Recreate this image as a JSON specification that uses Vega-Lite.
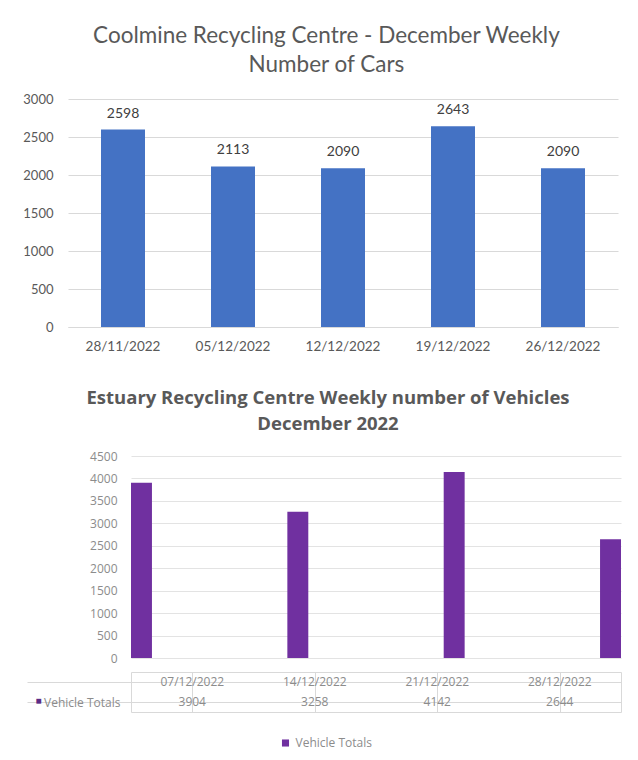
{
  "$schema": "https://vega.github.io/schema/vega-lite/v6.json",
  "padding": {"left": 22, "top": 24, "right": 0, "bottom": 0},
  "background": "white",
  "config": {
    "font": "Lato",
    "view": {"stroke": null},
    "legend": {"symbolType": "square"}
  },
  "spacing": 3,
  "datasets": {
    "coolmine": [
      {"week": "28/11/2022", "cars": 2598},
      {"week": "05/12/2022", "cars": 2113},
      {"week": "12/12/2022", "cars": 2090},
      {"week": "19/12/2022", "cars": 2643},
      {"week": "26/12/2022", "cars": 2090}
    ],
    "estuary": [
      {"week": "07/12/2022", "series": "Vehicle Totals", "vehicles": 3904},
      {"week": "14/12/2022", "series": "Vehicle Totals", "vehicles": 3258},
      {"week": "21/12/2022", "series": "Vehicle Totals", "vehicles": 4142},
      {"week": "28/12/2022", "series": "Vehicle Totals", "vehicles": 2644}
    ]
  },
  "vconcat": [
    {
      "width": 550,
      "height": 228,
      "title": {
        "text": ["Coolmine Recycling Centre - December Weekly", "Number of Cars"],
        "font": "Lato",
        "fontSize": 22.5,
        "fontWeight": "normal",
        "color": "#595959",
        "lineHeight": 29,
        "offset": 17,
        "dx": 6,
        "anchor": "middle",
        "frame": "bounds"
      },
      "data": {"name": "coolmine"},
      "encoding": {
        "x": {
          "field": "week",
          "type": "nominal",
          "sort": null,
          "scale": {"paddingInner": 0.6, "paddingOuter": 0.3},
          "axis": {
            "title": null,
            "labelAngle": 0,
            "ticks": false,
            "domainColor": "#d9d9d9",
            "labelColor": "#595959",
            "labelFontSize": 13.5,
            "labelPadding": 12,
            "minExtent": 58,
            "maxExtent": 58
          }
        },
        "y": {
          "field": "cars",
          "type": "quantitative",
          "scale": {"domain": [0, 3000]},
          "axis": {
            "title": null,
            "values": [0, 500, 1000, 1500, 2000, 2500, 3000],
            "format": "d",
            "ticks": false,
            "domain": false,
            "gridColor": "#d9d9d9",
            "labelColor": "#595959",
            "labelFontSize": 13,
            "labelPadding": 15,
            "minExtent": 41,
            "maxExtent": 41
          }
        }
      },
      "layer": [
        {"mark": {"type": "bar", "color": "#4472C4"}},
        {
          "mark": {"type": "text", "dy": -16, "fontSize": 14, "color": "#404040"},
          "encoding": {"text": {"field": "cars", "type": "quantitative", "format": "d"}}
        }
      ]
    },
    {
      "bounds": "flush",
      "spacing": 10,
      "hconcat": [
        {
          "width": 53,
          "height": 1,
          "data": {"values": []},
          "mark": "point"
        },
        {
          "spacing": 7,
          "vconcat": [
            {
              "width": 490,
              "height": 202,
              "title": {
                "text": ["Estuary Recycling Centre Weekly number of Vehicles", "December 2022"],
                "font": "Open Sans",
                "fontSize": 18.5,
                "fontWeight": "bold",
                "color": "#595959",
                "lineHeight": 26,
                "offset": 17,
                "dx": 4,
                "anchor": "middle",
                "frame": "bounds"
              },
              "data": {"name": "estuary"},
              "mark": {"type": "bar"},
              "encoding": {
                "x": {
                  "field": "week",
                  "type": "nominal",
                  "sort": null,
                  "scale": {"paddingInner": 0.866, "paddingOuter": 0},
                  "axis": null
                },
                "y": {
                  "field": "vehicles",
                  "type": "quantitative",
                  "scale": {"domain": [0, 4500]},
                  "axis": {
                    "title": null,
                    "values": [0, 500, 1000, 1500, 2000, 2500, 3000, 3500, 4000, 4500],
                    "format": "d",
                    "ticks": false,
                    "domain": false,
                    "gridColor": "#e3e3e3",
                    "labelColor": "#8c8c8c",
                    "labelFont": "Open Sans",
                    "labelFontSize": 12,
                    "labelPadding": 14,
                    "minExtent": 104,
                    "maxExtent": 104
                  }
                },
                "color": {
                  "field": "series",
                  "type": "nominal",
                  "scale": {"range": ["#7030A0"]},
                  "legend": {
                    "title": null,
                    "orient": "none",
                    "legendX": 211.5,
                    "legendY": 638,
                    "symbolSize": 50,
                    "symbolStrokeWidth": 0,
                    "labelFont": "Open Sans",
                    "labelFontSize": 12,
                    "labelColor": "#8c8c8c"
                  }
                }
              }
            },
            {
              "width": 490,
              "height": 40,
              "data": {"name": "estuary"},
              "view": {"stroke": "#d9d9d9"},
              "encoding": {
                "x": {
                  "field": "week",
                  "type": "nominal",
                  "sort": null,
                  "scale": {"paddingInner": 0, "paddingOuter": 0},
                  "axis": {
                    "title": null,
                    "labels": false,
                    "ticks": false,
                    "domain": false,
                    "grid": true,
                    "bandPosition": 0,
                    "gridColor": "#d9d9d9"
                  }
                }
              },
              "layer": [
                {
                  "mark": {"type": "text", "font": "Open Sans", "fontSize": 12, "color": "#8c8c8c"},
                  "encoding": {
                    "text": {"field": "week"},
                    "y": {
                      "datum": "Date",
                      "type": "nominal",
                      "scale": {"domain": ["Date", "Vehicle Totals"], "paddingInner": 0, "paddingOuter": 0},
                      "axis": {
                        "title": "■",
                        "titleAngle": 0,
                        "titleX": -93,
                        "titleY": 28,
                        "titleAlign": "center",
                        "titleBaseline": "middle",
                        "titleColor": "#5B2C86",
                        "titleFontSize": 10,
                        "labelExpr": "datum.value == 'Vehicle Totals' ? datum.value : ''",
                        "tickSize": 104,
                        "tickColor": "#d9d9d9",
                        "bandPosition": 1,
                        "labelPadding": -93,
                        "domain": false,
                        "grid": true,
                        "gridColor": "#d9d9d9",
                        "labelColor": "#8c8c8c",
                        "labelFont": "Open Sans",
                        "labelFontSize": 12
                      }
                    }
                  }
                },
                {
                  "mark": {"type": "text", "font": "Open Sans", "fontSize": 12, "color": "#8c8c8c"},
                  "encoding": {
                    "text": {"field": "vehicles", "type": "quantitative", "format": "d"},
                    "y": {"datum": "Vehicle Totals", "type": "nominal"}
                  }
                }
              ]
            }
          ]
        }
      ]
    }
  ]
}
